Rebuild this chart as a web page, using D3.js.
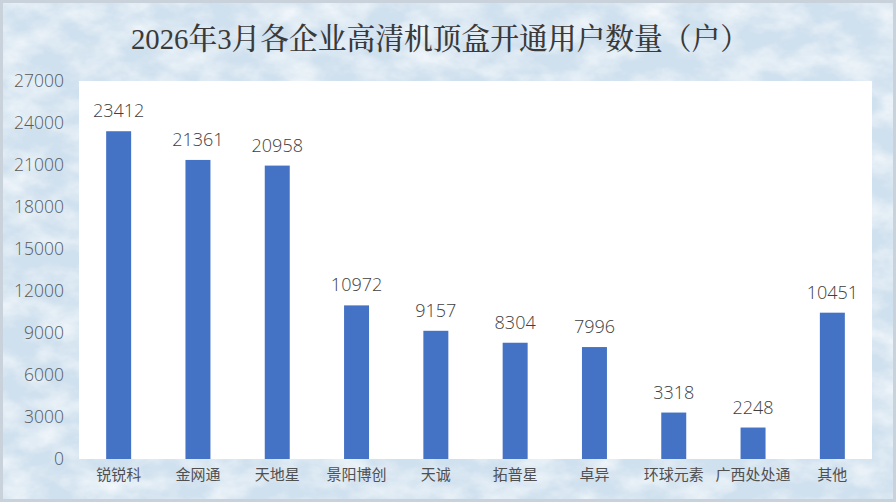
<!DOCTYPE html>
<html><head><meta charset="utf-8">
<script src="https://cdn.jsdelivr.net/npm/d3@7/dist/d3.min.js"></script>
<style>html,body{margin:0;padding:0;background:#fff;}svg{display:block;}</style>
</head><body>
<script>
const categories = ["锐锐科","金网通","天地星","景阳博创","天诚","拓普星","卓异","环球元素","广西处处通","其他"];
const values = [23412,21361,20958,10972,9157,8304,7996,3318,2248,10451];
const yTicks = [0,3000,6000,9000,12000,15000,18000,21000,24000,27000];
const title = "2026年3月各企业高清机顶盒开通用户数量（户）";

const W = 896, H = 502;
const plot = {left:79, right:872, top:81, bottom:459};

const svg = d3.select("body").append("svg").attr("width",W).attr("height",H);
const defs = svg.append("defs");
const f = defs.append("filter").attr("id","marble").attr("x",0).attr("y",0).attr("width","100%").attr("height","100%");
f.append("feTurbulence").attr("type","fractalNoise").attr("baseFrequency","0.025 0.04").attr("numOctaves",4).attr("seed",7).attr("result","n");
f.append("feColorMatrix").attr("in","n").attr("type","matrix")
 .attr("values","0 0 0 0 1  0 0 0 0 1  0 0 0 0 1  1.6 0 0 0 -0.55").attr("result","w");
f.append("feComposite").attr("in","w").attr("in2","SourceGraphic").attr("operator","in");

svg.append("rect").attr("width",W).attr("height",H).attr("fill","#cfe0ee");
svg.append("rect").attr("width",W).attr("height",H).attr("fill","#cfe0ee").attr("filter","url(#marble)").attr("opacity",0.85);
svg.append("rect").attr("x",1.5).attr("y",1.5).attr("width",W-3).attr("height",H-3)
  .attr("fill","none").attr("stroke","#c9d2da").attr("stroke-width",3);

svg.append("text").attr("x",440).attr("y",49).attr("text-anchor","middle")
  .attr("font-family","'Liberation Serif','Noto Serif CJK SC','Noto Sans CJK SC',serif")
  .attr("font-size",30).attr("fill","#3a3a3a").attr("font-weight",500)
  .attr("textLength",618).attr("lengthAdjust","spacingAndGlyphs").text(title);

svg.append("rect").attr("x",plot.left).attr("y",plot.top)
  .attr("width",plot.right-plot.left).attr("height",plot.bottom-plot.top).attr("fill","#ffffff");

const x = d3.scaleBand().domain(categories).range([plot.left,plot.right]).paddingInner(0.685).paddingOuter(0.3425);
const y = d3.scaleLinear().domain([0,27000]).range([plot.bottom,plot.top]);

const font = "'Noto Sans CJK SC','Noto Sans',sans-serif";
const numFont = "'Open Sans','Noto Sans',sans-serif";

svg.append("g").selectAll("rect").data(values).join("rect")
  .attr("x",(d,i)=>x(categories[i])).attr("width",x.bandwidth())
  .attr("y",d=>y(d)).attr("height",d=>y(0)-y(d)).attr("fill","#4472C4");

svg.append("g").selectAll("text").data(values).join("text")
  .attr("x",(d,i)=>x(categories[i])+x.bandwidth()/2).attr("y",d=>y(d)-14)
  .attr("text-anchor","middle").attr("font-family",numFont).attr("font-weight",300).attr("font-size",18)
  .attr("fill","#404040").text(d=>d);

const yAxis = svg.append("g").attr("transform",`translate(${plot.left},0)`)
  .call(d3.axisLeft(y).tickValues(yTicks).tickSize(0).tickPadding(15).tickFormat(d3.format("d")));
yAxis.select(".domain").remove();
yAxis.selectAll("text").attr("font-family",numFont).attr("font-weight",300).attr("font-size",17.5).attr("fill","#595959");

const xAxis = svg.append("g").attr("transform",`translate(0,${plot.bottom})`)
  .call(d3.axisBottom(x).tickSize(0).tickPadding(10));
xAxis.select(".domain").remove();
xAxis.selectAll("text").attr("font-family",font).attr("font-size",15).attr("fill","#505050");
</script>
</body></html>
